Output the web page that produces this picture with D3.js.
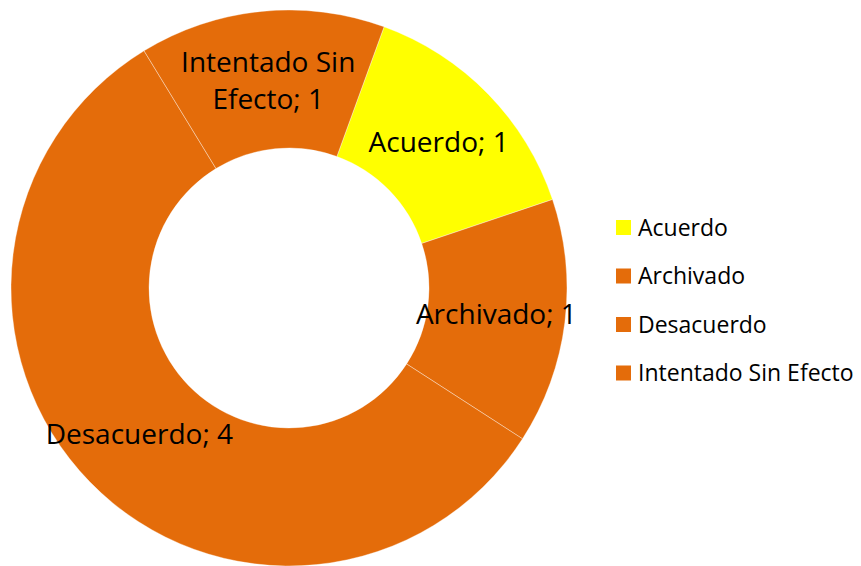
<!DOCTYPE html>
<html lang="es">
<head>
<meta charset="utf-8">
<title>Donut</title>
<script src="https://cdn.jsdelivr.net/npm/d3@7"></script>
<style>
  body { margin: 0; background: #fff; }
  .labels { font-family: "Open Sans", sans-serif; font-size: 28px; fill: #000; }
  .legend text { font-family: "Open Sans", sans-serif; font-size: 23px; fill: #000; }
</style>
</head>
<body>
<svg width="861" height="566"></svg>
<script>
// data
const categories = ["Acuerdo", "Archivado", "Desacuerdo", "Intentado Sin Efecto"];
const values = [1, 1, 4, 1];
const colors = ["#FFFF00", "#E46C0A", "#E46C0A", "#E46C0A"];

const svg = d3.select("svg");
const cx = 289, cy = 288;
const outerRadius = 278, innerRadius = 140;

const data = categories.map((c, i) => ({ name: c, value: values[i] }));

const start = 20 * Math.PI / 180;
const pie = d3.pie()
  .sort(null)
  .value(d => d.value)
  .startAngle(start)
  .endAngle(start + 2 * Math.PI);

const arcs = d3.arc().innerRadius(innerRadius).outerRadius(outerRadius);

const color = d3.scaleOrdinal().domain(categories).range(colors);

const groups = svg.selectAll("g.arc")
  .data(pie(data))
  .enter()
  .append("g")
  .attr("class", "arc")
  .attr("transform", `translate(${cx},${cy})`);

groups.append("path")
  .attr("d", arcs)
  .attr("fill", d => color(d.data.name))
  .style("stroke", "rgba(255,255,255,0.6)")
  .style("stroke-width", 0.6);

// labels, Intentado Sin Efecto wraps onto two lines
groups.append("text")
  .attr("class", "labels")
  .attr("text-anchor", "middle")
  .attr("transform", d => "translate(" + arcs.centroid(d) + ")")
  .each(function(d) {
    const t = d3.select(this);
    const lbl = d.data.name + "; " + d.data.value;
    const lines = d.data.name === "Intentado Sin Efecto"
      ? ["Intentado Sin", "Efecto; " + d.data.value] : [lbl];
    const lh = 37;
    lines.forEach((ln, i) => {
      t.append("tspan")
        .attr("x", 0)
        .attr("y", (i - (lines.length - 1) / 2) * lh + 10)
        .text(ln);
    });
  });

// legend
const legend = svg.append("g").attr("class", "legend")
  .attr("transform", "translate(616,220)");

const items = legend.selectAll("g")
  .data(categories)
  .enter()
  .append("g")
  .attr("transform", (d, i) => `translate(0,${i * 48.5})`);

items.append("rect")
  .attr("width", 15).attr("height", 15)
  .attr("fill", d => color(d));

items.append("text")
  .attr("x", 22)
  .attr("y", 15.5)
  .text(d => d);
</script>
</body>
</html>
